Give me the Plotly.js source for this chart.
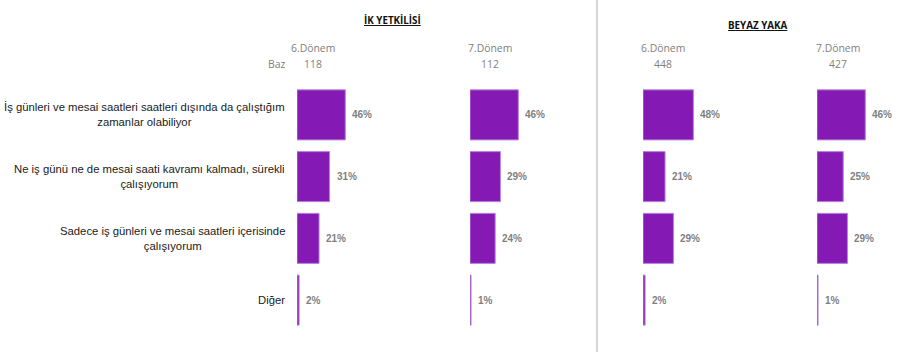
<!DOCTYPE html>
<html><head><meta charset="utf-8">
<script src="https://cdn.plot.ly/plotly-3.0.1.min.js"></script>
<style>html,body{margin:0;padding:0;background:#fff}#c{width:905px;height:352px}</style>
</head><body><div id="c"></div>
<script>
const categories = [
  "İş günleri ve mesai saatleri saatleri dışında da çalıştığım zamanlar olabiliyor",
  "Ne iş günü ne de mesai saati kavramı kalmadı, sürekli çalışıyorum",
  "Sadece iş günleri ve mesai saatleri içerisinde çalışıyorum",
  "Diğer"
];
const categoryLabels = [
  "İş günleri ve mesai saatleri saatleri dışında da çalıştığım<br>zamanlar olabiliyor",
  "Ne iş günü ne de mesai saati kavramı kalmadı, sürekli<br>çalışıyorum",
  "Sadece iş günleri ve mesai saatleri içerisinde<br>çalışıyorum",
  "Diğer"
];
const groups = ["İK YETKİLİSİ", "BEYAZ YAKA"];
const periods = ["6.Dönem", "7.Dönem", "6.Dönem", "7.Dönem"];
const baz = [118, 112, 448, 427];
const ik6 = [46, 31, 21, 2];
const ik7 = [46, 29, 24, 1];
const by6 = [48, 21, 29, 2];
const by7 = [46, 25, 29, 1];
const series = [ik6, ik7, by6, by7];

const W = 905;
const PH = 247;
const starts = [297, 470, 643, 817];
const widths = [165, 85, 85, 88];
const pxPer = 1.05;
const axNames = ["x", "x2", "x3", "x4"];

const traces = series.map((vals, i) => ({
  type: "bar", orientation: "h",
  x: vals, y: categories,
  xaxis: axNames[i], yaxis: "y",
  marker: {color: "#8519b3", line: {color: "#b784dc", width: 1}},
  hoverinfo: "skip", showlegend: false
}));

const layout = {
  width: 905, height: 352,
  margin: {l: 0, r: 0, t: 84, b: 21},
  paper_bgcolor: "#ffffff", plot_bgcolor: "rgba(0,0,0,0)",
  bargap: 0.19,
  font: {family: "Liberation Sans, Arial, sans-serif", size: 11, color: "#222"},
  yaxis: {autorange: "reversed", showticklabels: false, showgrid: false, zeroline: false, showline: false, ticks: "", domain: [0, 1]},
  annotations: [], shapes: []
};
axNames.forEach((a, i) => {
  const key = "xaxis" + (i === 0 ? "" : (i + 1));
  layout[key] = {
    domain: [starts[i] / W, (starts[i] + widths[i]) / W],
    range: [0, widths[i] / pxPer],
    showticklabels: false, showgrid: false, zeroline: false, showline: false, ticks: "",
    anchor: "y", fixedrange: true
  };
});

// category labels
categoryLabels.forEach((lab, j) => {
  layout.annotations.push({
    xref: "paper", yref: "y", x: 287 / W, y: categories[j],
    xanchor: "right", yanchor: "middle", align: "center",
    text: lab, showarrow: false,
    font: {family: "Liberation Sans, Arial, sans-serif", size: 11.3, color: "#1a1a1a"}
  });
});
// value labels
series.forEach((vals, i) => {
  vals.forEach((v, j) => {
    layout.annotations.push({
      xref: axNames[i], yref: "y", x: v, y: categories[j],
      xanchor: "left", yanchor: "middle", xshift: 5,
      text: "<b>" + v + "%</b>", showarrow: false,
      font: {family: "Liberation Sans, Arial, sans-serif", size: 10, color: "#7f7f7f"}
    });
  });
});
// period headers and baz
const headerCenters = [313, 490, 663, 838];
const hdrFont = {family: "Open Sans, Liberation Sans, sans-serif", size: 10.4, color: "#808080"};
periods.forEach((p, i) => {
  layout.annotations.push({
    xref: "paper", yref: "paper", x: headerCenters[i] / W, y: 1 + (84 - 48) / PH,
    xanchor: "center", yanchor: "middle", text: p, showarrow: false, font: hdrFont
  });
  layout.annotations.push({
    xref: "paper", yref: "paper", x: headerCenters[i] / W, y: 1 + (84 - 64) / PH,
    xanchor: "center", yanchor: "middle", text: String(baz[i]), showarrow: false, font: hdrFont
  });
});
layout.annotations.push({
  xref: "paper", yref: "paper", x: 276 / W, y: 1 + (84 - 64) / PH,
  xanchor: "center", yanchor: "middle", text: "Baz", showarrow: false, font: hdrFont
});
// group titles
const groupX = [392, 758];
const groupY = [21, 25];
groups.forEach((g, i) => {
  layout.annotations.push({
    xref: "paper", yref: "paper", x: groupX[i] / W, y: 1 + (84 - groupY[i]) / PH,
    xanchor: "center", yanchor: "middle", text: "<b><u>" + g + "</u></b>", showarrow: false,
    font: {family: "Open Sans, Liberation Sans, sans-serif", size: 9.8, color: "#111"}
  });
});
// divider
layout.shapes.push({
  type: "line", xref: "paper", yref: "paper",
  x0: 597 / W, x1: 597 / W, y0: -21 / PH, y1: 1 + 84 / PH,
  line: {color: "#c8c8c8", width: 1.5}
});

Plotly.newPlot("c", traces, layout, {displayModeBar: false, staticPlot: true});
</script>
</body></html>
